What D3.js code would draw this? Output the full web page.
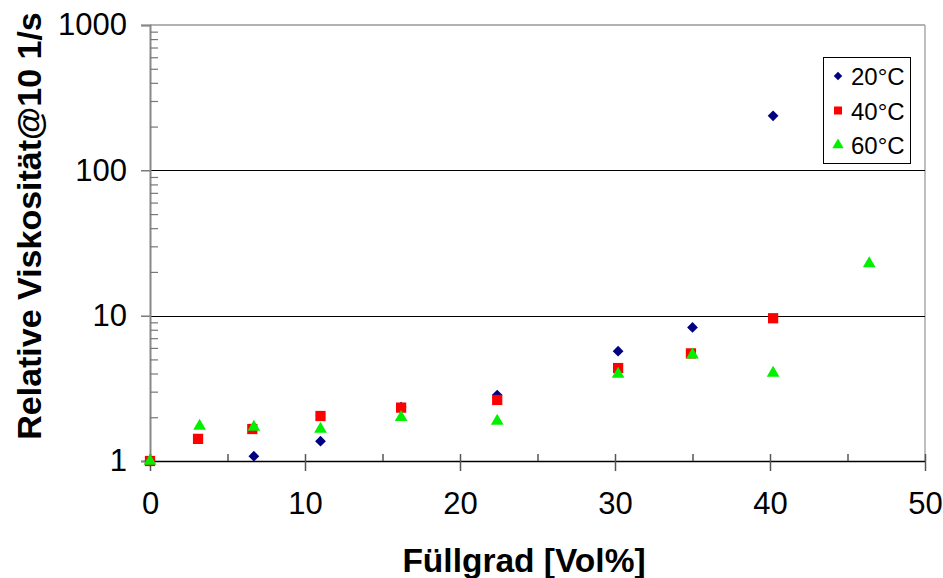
<!DOCTYPE html>
<html><head><meta charset="utf-8">
<script src="https://cdn.jsdelivr.net/npm/d3@7"></script>
<style>body{margin:0;background:#fff;}svg{display:block;font-family:Arial,"Liberation Sans",sans-serif;}</style>
</head><body>
<svg id="c" width="943" height="578"></svg>
<script>
const seriesNames = ["20°C", "40°C", "60°C"];
const seriesColors = ["#000080", "#ff0000", "#00f000"];
const x20 = [0, 6.7, 11, 16.2, 22.4, 30.2, 35, 40.2];
const y20 = [1, 1.08, 1.37, 2.35, 2.84, 5.7, 8.3, 237];
const x40 = [0, 3.1, 6.6, 11, 16.2, 22.4, 30.2, 34.9, 40.2];
const y40 = [1, 1.42, 1.66, 2.04, 2.33, 2.63, 4.36, 5.5, 9.6];
const x60 = [0, 3.2, 6.7, 11, 16.2, 22.4, 30.2, 35, 40.2, 46.4];
const y60 = [1, 1.74, 1.71, 1.66, 2.0, 1.88, 3.97, 5.37, 4.03, 22.8];
const xTicks = [0, 10, 20, 30, 40, 50];
const xMinor = [5, 15, 25, 35, 45];
const yTicks = [1, 10, 100, 1000];
const xTitle = "Füllgrad [Vol%]";
const yTitle = "Relative Viskosität@10 1/s";

const L = 150, R = 925, T = 25, B = 461;
const svg = d3.select("#c");
const x = d3.scaleLinear().domain([0, 50]).range([L, R]);
const y = d3.scaleLog().domain([1, 1000]).range([B, T]);

// plot border (grey top/right)
svg.append("line").attr("x1", L).attr("x2", R).attr("y1", T).attr("y2", T).attr("stroke", "#999").attr("stroke-width", 1.5);
svg.append("line").attr("x1", R).attr("x2", R).attr("y1", T).attr("y2", B).attr("stroke", "#aaa").attr("stroke-width", 1.5);

// horizontal gridlines at 10, 100 (black), starting at tick
[10, 100].forEach(v => {
  svg.append("line").attr("x1", L - 9).attr("x2", R).attr("y1", Math.round(y(v)) + 0.5).attr("y2", Math.round(y(v)) + 0.5).attr("stroke", "#000").attr("stroke-width", 1.2);
});

// y axis (grey)
const yMinor = [];
[1, 10, 100].forEach(d => { for (let k = 2; k <= 9; k++) yMinor.push(d * k); });
const yAxis = d3.axisLeft(y).tickValues(yTicks).tickFormat(d3.format("d")).tickSize(9).tickPadding(14);
const yg = svg.append("g").attr("transform", `translate(${L},0)`).call(yAxis);
yg.select(".domain").attr("stroke", "#888").attr("stroke-width", 2);
yg.selectAll(".tick line").attr("stroke", "#888").attr("stroke-width", 1.5);
yg.selectAll(".tick text").attr("font-size", 31).attr("fill", "#000").attr("font-family", "Arial, 'Liberation Sans', sans-serif");
const ym = svg.append("g").attr("transform", `translate(${L},0)`).call(d3.axisRight(y).tickValues(yMinor).tickFormat("").tickSize(8));
ym.select(".domain").remove();
ym.selectAll(".tick line").attr("stroke", "#777").attr("stroke-width", 1.2);

// x axis (black line at y=1)
const xg = svg.append("g").attr("transform", `translate(0,${B})`).call(d3.axisBottom(x).tickValues(xTicks).tickFormat(d3.format("d")).tickSizeInner(10).tickSizeOuter(0).tickPadding(21));
xg.select(".domain").attr("stroke", "#000").attr("stroke-width", 1.5);
xg.selectAll(".tick line").attr("stroke", "#555").attr("stroke-width", 1.5).attr("y1", -7);
xg.selectAll(".tick text").attr("font-size", 31).attr("fill", "#000").attr("font-family", "Arial, 'Liberation Sans', sans-serif");
const xm = svg.append("g").attr("transform", `translate(0,${B})`).call(d3.axisTop(x).tickValues(xMinor).tickFormat("").tickSize(7));
xm.select(".domain").remove();
xm.selectAll(".tick line").attr("stroke", "#555").attr("stroke-width", 1.5);

// titles
svg.append("text").attr("x", 524).attr("y", 572).attr("text-anchor", "middle").attr("font-size", 33.5).attr("font-weight", "bold").text(xTitle);
svg.append("text").attr("transform", `translate(41,${226}) rotate(-90)`).attr("text-anchor", "middle").attr("font-size", 34).attr("font-weight", "bold").text(yTitle);

// markers
const shapes = [d3.symbolSquare, d3.symbolSquare, d3.symbolTriangle];
const rot = [45, 0, 0];
const sizes = [58, 105, 70];
const data = [[x20, y20], [x40, y40], [x60, y60]];
data.forEach(([xs, ys], i) => {
  const sym = d3.symbol().type(shapes[i]).size(sizes[i]);
  svg.append("g").selectAll("path").data(xs.map((d, j) => [d, ys[j]])).join("path")
    .attr("d", sym)
    .attr("transform", d => `translate(${x(d[0])},${y(d[1])}) rotate(${rot[i]})`)
    .attr("fill", seriesColors[i]);
});

// legend
const lg = svg.append("g");
lg.append("rect").attr("x", 823.5).attr("y", 57.5).attr("width", 87).attr("height", 106).attr("fill", "#fff").attr("stroke", "#000").attr("stroke-width", 1);
const legSizes = [36, 64, 55];
seriesNames.forEach((n, i) => {
  const cy = 76 + i * 34.5;
  lg.append("path").attr("d", d3.symbol().type(shapes[i]).size(legSizes[i])).attr("transform", `translate(838,${cy}) rotate(${rot[i]})`).attr("fill", seriesColors[i]);
  lg.append("text").attr("x", 851).attr("y", cy + 9).attr("font-size", 24).attr("fill", "#000").text(n);
});
</script>
</body></html>
